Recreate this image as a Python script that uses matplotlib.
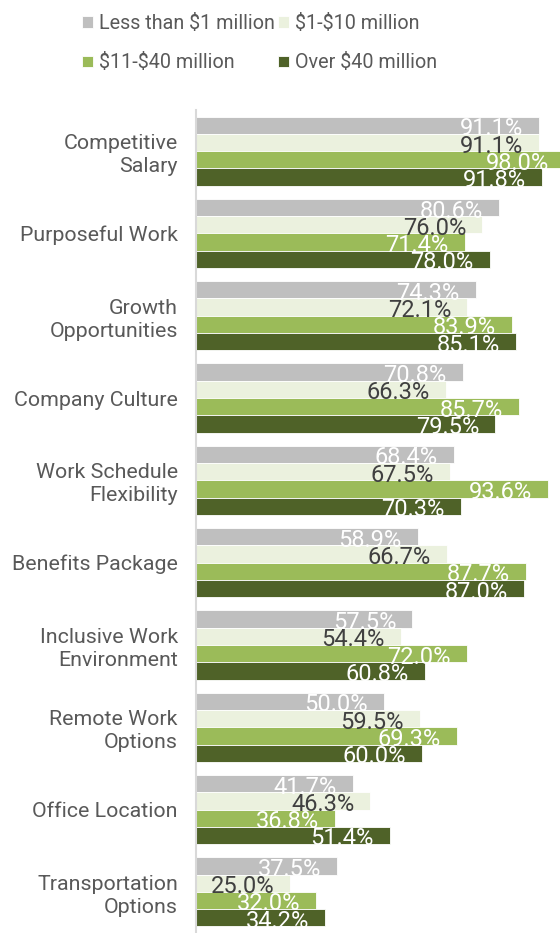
import matplotlib.pyplot as plt
import numpy as np

plt.rcParams["font.family"] = ["Roboto", "DejaVu Sans"]

categories = [
    "Competitive\nSalary",
    "Purposeful Work",
    "Growth\nOpportunities",
    "Company Culture",
    "Work Schedule\nFlexibility",
    "Benefits Package",
    "Inclusive Work\nEnvironment",
    "Remote Work\nOptions",
    "Office Location",
    "Transportation\nOptions",
]
series_names = [r"Less than \$1 million", r"\$1-\$10 million", r"\$11-\$40 million", r"Over \$40 million"]
less_1m = [91.1, 80.6, 74.3, 70.8, 68.4, 58.9, 57.5, 50.0, 41.7, 37.5]
m1_10 = [91.1, 76.0, 72.1, 66.3, 67.5, 66.7, 54.4, 59.5, 46.3, 25.0]
m11_40 = [98.0, 71.4, 83.9, 85.7, 93.6, 87.7, 72.0, 69.3, 36.8, 32.0]
over_40m = [91.8, 78.0, 85.1, 79.5, 70.3, 87.0, 60.8, 60.0, 51.4, 34.2]

colors = ["#BFBFBF", "#EBF1DE", "#9BBB59", "#4F6228"]
label_colors = ["white", "#404040", "white", "white"]

fig = plt.figure(figsize=(5.6, 9.33), dpi=100)
ax = fig.add_axes([196 / 560, 0.0, 1 - 196 / 560, 1 - 110 / 933])

y = np.arange(len(categories))
h = 0.21
bars = []
for i, (vals, col, lc) in enumerate(zip([less_1m, m1_10, m11_40, over_40m], colors, label_colors)):
    pos = y + (i - 1.5) * h
    b = ax.barh(pos, vals, height=h, color=col, edgecolor="white", linewidth=0.6,
                label=series_names[i], clip_on=False)
    bars.append(b)
    for p, v in zip(pos, vals):
        ax.annotate(f"{v:.1f}%", xy=(v, p), xytext=(-16, -1), textcoords="offset pixels",
                    ha="right", va="center_baseline", fontsize=17, color=lc,
                    annotation_clip=False)

ax.set_xlim(0, 364 / 3.765)
ax.set_ylim(len(categories) - 0.5, -0.5)
ax.set_yticks(y)
ax.set_yticklabels(categories, fontsize=15.4, color="#595959", linespacing=1.27)
ax.tick_params(axis="y", length=0, pad=13)
ax.set_xticks([])
for s in ["top", "right", "bottom"]:
    ax.spines[s].set_visible(False)
ax.spines["left"].set_color("#D9D9D9")
ax.spines["left"].set_linewidth(1.5)

# legend fills column-wise, so order handles to read row by row
order = [0, 2, 1, 3]
fig.legend(handles=[bars[i] for i in order], labels=[series_names[i] for i in order],
           ncol=2, loc="upper left", bbox_to_anchor=(64 / 560, 1 + 4 / 933),
           frameon=False, fontsize=14.2,
           handlelength=0.55, handleheight=0.55, handletextpad=0.3,
           columnspacing=0.2, labelspacing=1.05, labelcolor="#595959")

fig.savefig("out.png", dpi=100)
